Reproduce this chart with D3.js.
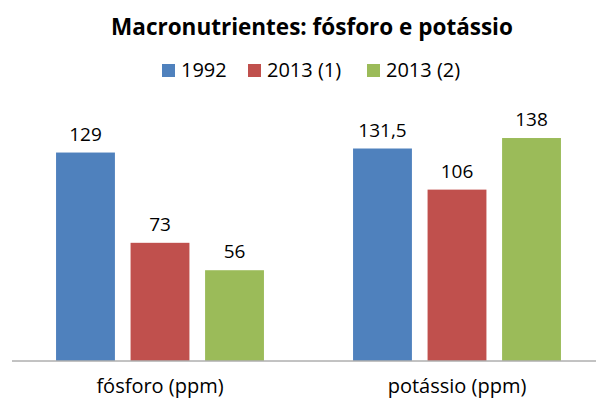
<!DOCTYPE html>
<html>
<head>
<meta charset="utf-8">
<script src="https://cdn.jsdelivr.net/npm/d3@7"></script>
<style>
  body { margin: 0; background: #fff; }
  text { font-family: "Open Sans", sans-serif; fill: #000; }
</style>
</head>
<body>
<script>
// chart data
const categories = ["fósforo (ppm)", "potássio (ppm)"];
const seriesNames = ["1992", "2013 (1)", "2013 (2)"];
const values1992 = [129, 131.5];
const values2013a = [73, 106];
const values2013b = [56, 138];
const valueLabels = [["129", "73", "56"], ["131,5", "106", "138"]];
const colors = ["#4F81BD", "#C0504D", "#9BBB59"];

const w = 596;
const h = 401;

const seriesValues = [values1992, values2013a, values2013b];

const svg = d3.select("body")
  .append("svg")
  .attr("width", w)
  .attr("height", h);

// scales
const x0 = d3.scaleBand()
  .domain(categories)
  .range([11.5, 605.5])
  .paddingInner(0.3)
  .paddingOuter(0.15);

const x1 = d3.scaleBand()
  .domain(seriesNames)
  .range([0, x0.bandwidth()])
  .paddingInner(0.21);

const y = d3.scaleLinear()
  .domain([0, 140])
  .range([360.5, 134.8]);

// title
svg.append("text")
  .attr("x", 312)
  .attr("y", 35)
  .attr("text-anchor", "middle")
  .style("font-weight", "bold")
  .style("font-size", "22.5px")
  .text("Macronutrientes: fósforo e potássio");

// legend
const legendX = [162, 248, 367];
const legend = svg.selectAll(".legend")
  .data(seriesNames)
  .enter()
  .append("g")
  .attr("class", "legend")
  .attr("transform", (d, i) => "translate(" + legendX[i] + ",64)");

legend.append("rect")
  .attr("width", 13)
  .attr("height", 13)
  .attr("fill", (d, i) => colors[i]);

legend.append("text")
  .attr("x", 19)
  .attr("y", 13)
  .style("font-size", "20px")
  .text(d => d);

// bars
const groups = svg.selectAll(".group")
  .data(categories)
  .enter()
  .append("g")
  .attr("class", "group")
  .attr("transform", d => "translate(" + x0(d) + ",0)");

groups.each(function(cat, ci) {
  const g = d3.select(this);
  const rows = seriesNames.map((s, si) => ({ s: s, v: seriesValues[si][ci], label: valueLabels[ci][si], color: colors[si] }));

  g.selectAll("rect")
    .data(rows)
    .enter()
    .append("rect")
    .attr("x", d => x1(d.s))
    .attr("y", d => y(d.v))
    .attr("width", x1.bandwidth())
    .attr("height", d => y(0) - y(d.v))
    .attr("fill", d => d.color);

  g.selectAll(".val")
    .data(rows)
    .enter()
    .append("text")
    .attr("class", "val")
    .attr("x", d => x1(d.s) + x1.bandwidth() / 2)
    .attr("y", d => y(d.v) - 12)
    .attr("text-anchor", "middle")
    .style("font-size", "19px")
    .text(d => d.label);
});

// axis
const xAxis = svg.append("g")
  .attr("transform", "translate(0," + y(0) + ")")
  .call(d3.axisBottom(x0).tickSize(0).tickPadding(18));

xAxis.select(".domain").attr("stroke", "#868686");
xAxis.selectAll("text")
  .style("font-size", "20px")
  .style("font-family", "'Open Sans', sans-serif")
  .attr("fill", "#000");
</script>
</body>
</html>
